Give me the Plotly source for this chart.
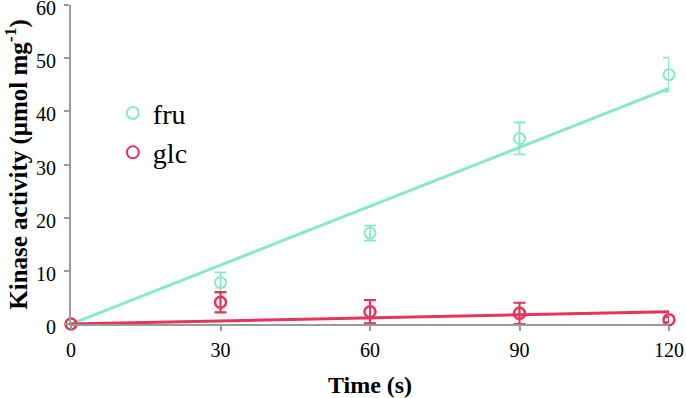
import plotly.graph_objects as go

time_s = [0, 30, 60, 90, 120]
fru_vals = [0, 7.8, 17.1, 34.9, 46.9]
fru_err = [0, 1.9, 1.4, 3.0, 3.2]
glc_vals = [0, 4.1, 2.3, 2.0, 0.8]
glc_err = [0, 1.9, 2.2, 2.0, 0.5]
fru_fit = [0, 44.3]
glc_fit = [0, 2.3]
fit_x = [0, 120]

fru_color = "#86EAC6"
glc_color = "#E6345C"
font_family = "Liberation Serif, Times New Roman, serif"

fig = go.Figure()
fig.add_trace(go.Scatter(x=fit_x, y=fru_fit, mode="lines",
                         line=dict(color=fru_color, width=3), showlegend=False, hoverinfo="skip"))
fig.add_trace(go.Scatter(x=fit_x, y=glc_fit, mode="lines",
                         line=dict(color=glc_color, width=3), showlegend=False, hoverinfo="skip"))
fig.add_trace(go.Scatter(x=time_s, y=fru_vals, mode="markers", name="fru",
                         marker=dict(symbol="circle-open", size=11, color=fru_color, line=dict(width=2)),
                         error_y=dict(type="data", array=fru_err, color=fru_color, thickness=1.8, width=6)))
fig.add_trace(go.Scatter(x=time_s, y=glc_vals, mode="markers", name="glc",
                         marker=dict(symbol="circle-open", size=11, color=glc_color, line=dict(width=2.5)),
                         error_y=dict(type="data", array=glc_err, color=glc_color, thickness=2.2, width=6)))

fig.update_traces(cliponaxis=False)

fig.update_layout(
    width=686, height=398,
    margin=dict(l=71, r=17, t=5, b=74, autoexpand=False),
    paper_bgcolor="white", plot_bgcolor="white",
    font=dict(family=font_family, size=20, color="black"),
    legend=dict(x=0.070, y=0.739, xanchor="left", yanchor="top",
                font=dict(size=28, family=font_family), bgcolor="rgba(0,0,0,0)",
                itemsizing="constant", tracegroupgap=0, itemwidth=30),
    xaxis=dict(range=[0, 120], tickvals=time_s, showgrid=False, zeroline=False, automargin=False,
               showline=True, linecolor="#9a9a9a", linewidth=2,
               ticks="outside", ticklen=5, tickcolor="#9a9a9a", tickwidth=1.5,
               tickfont=dict(size=20), ticklabelstandoff=2, ticklabeloverflow="allow",
               title=dict(text="<b>Time (s)</b>", font=dict(size=24), standoff=19)),
    yaxis=dict(range=[0, 60], tickvals=[0, 10, 20, 30, 40, 50, 60], showgrid=False, zeroline=False, automargin=False,
               showline=True, linecolor="#9a9a9a", linewidth=2,
               ticks="outside", ticklen=5, tickcolor="#9a9a9a", tickwidth=1.5,
               tickfont=dict(size=20), ticklabelstandoff=4, ticklabelshift=3, ticklabeloverflow="allow",
               title=dict(text="<b>Kinase activity (μmol mg<sup>-1</sup>)</b>", font=dict(size=25), standoff=24)),
)

fig.write_html("out.html", config={"displayModeBar": False},
               post_script="document.body.style.margin='0';document.body.style.overflow='hidden';")
